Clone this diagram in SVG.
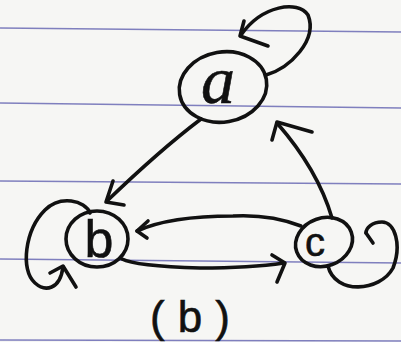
<svg xmlns="http://www.w3.org/2000/svg" width="401" height="342" viewBox="0 0 401 342">
<style>
.paper{fill:#f6f6f4}
.rule{stroke:#6a6ab4;stroke-width:1.6;fill:none;opacity:0.85}
.node{fill:none;stroke:#111;stroke-width:3.6}
.edge{fill:none;stroke:#111;stroke-width:3.6;stroke-linecap:round;stroke-linejoin:round}
.lbl{font-family:"Liberation Sans",Arial,sans-serif;fill:#111;stroke:#111;stroke-width:0.6}
</style>
<rect class="paper" x="0" y="0" width="401" height="342"/>
<g id="rules">
<path class="rule" d="M0,28 L401,32"/>
<path class="rule" d="M0,103 L401,108"/>
<path class="rule" d="M0,181 L401,184"/>
<path class="rule" d="M0,259 L401,263"/>
<path class="rule" d="M0,340 L401,341"/>
</g>
<g id="connectors">
<path class="edge" d="M201,119 Q160,150 107,201"/>
<path class="edge" d="M113,181 L106,202 L124,205"/>
<path class="edge" d="M332,218 Q318,170 277,123"/>
<path class="edge" d="M272,140 L277,122 L312,132"/>
<path class="edge" d="M301,226 Q270,214 233,216 Q170,216 137,231"/>
<path class="edge" d="M148,221 L137,231 L147,238"/>
<path class="edge" d="M122,259 Q135,266 200,268 Q250,268 284,263"/>
<path class="edge" d="M272,255 L285,263 L277,282"/>
<path class="edge" d="M266,75 C290,68 318,40 308,15 C298,0 262,5 241,35"/>
<path class="edge" d="M244,21 L240,36 L268,46"/>
<path class="edge" d="M90,213 C85,200 60,195 45,210 C25,230 20,270 35,283 C45,292 60,290 63,267"/>
<path class="edge" d="M50,273 L63,266 L76,287"/>
<path class="edge" d="M328,266 C335,295 380,292 393,268 C402,245 395,222 382,222 C372,222 366,228 366,233"/>
<path class="edge" d="M366,233 L373,243"/>
</g>
<g id="node-a">
<ellipse class="node" cx="223" cy="87" rx="44" ry="35" transform="rotate(-10 223 87)"/>
<text class="lbl" x="218" y="103" font-size="68" text-anchor="middle" style="font-family:'Liberation Serif',serif;font-style:italic">a</text>
</g>
<g id="node-b">
<ellipse class="node" cx="97" cy="239" rx="31" ry="28"/>
<text class="lbl" x="99" y="257" font-size="52" text-anchor="middle">b</text>
</g>
<g id="node-c">
<ellipse class="node" cx="324" cy="242" rx="29" ry="24" transform="rotate(-20 324 242)"/>
<text class="lbl" x="315" y="256" font-size="40" text-anchor="middle">c</text>
</g>
<g id="caption">
<text class="lbl" x="150" y="332" font-size="44" textLength="80" lengthAdjust="spacing">(b)</text>
</g>
</svg>
